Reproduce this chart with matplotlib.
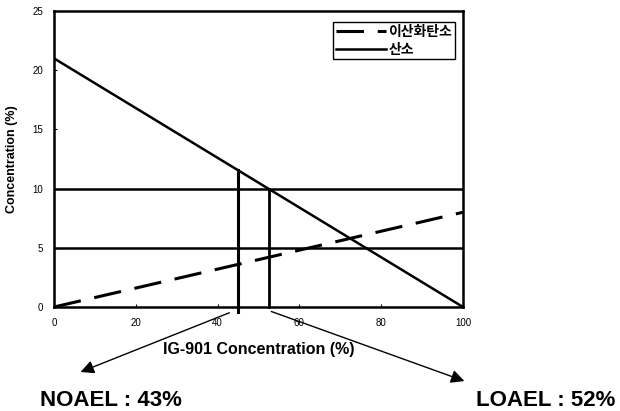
import matplotlib.pyplot as plt
import numpy as np

# data
ig901 = [0, 100]
co2 = [0, 8]          # 이산화탄소
o2 = [21, 0]          # 산소
ref_levels = [10, 5]
noael_x, loael_x = 45, 52.5
noael_label = 'NOAEL : 43%'
loael_label = 'LOAEL : 52%'

plt.rcParams['font.family'] = ['Liberation Sans', 'Noto Sans CJK KR', 'DejaVu Sans']

fig = plt.figure(figsize=(6.2, 4.11), dpi=100)
ax = fig.add_axes([54 / 620, 1 - 307 / 411, 409 / 620, 296 / 411])

ax.plot(ig901, co2, color='black', lw=2.2, ls=(0, (9, 4.5)), label='이산화탄소')
ax.plot(ig901, o2, color='black', lw=1.8, label='산소')
for lv in ref_levels:
    ax.axhline(lv, color='black', lw=1.8)

# vertical markers up to the oxygen line
o2_at = lambda x: np.interp(x, ig901, o2)
ax.plot([noael_x, noael_x], [-0.4, o2_at(noael_x)], color='black', lw=2.2, clip_on=False)
ax.plot([loael_x, loael_x], [0, o2_at(loael_x)], color='black', lw=2.0, clip_on=False)

ax.set_xlim(0, 100)
ax.set_ylim(0, 25)
ax.set_xticks(np.arange(0, 101, 20))
ax.set_yticks(np.arange(0, 26, 5))
ax.tick_params(labelsize=7, direction='in', length=2, pad=8)
for s in ax.spines.values():
    s.set_linewidth(1.8)

ax.set_xlabel('IG-901 Concentration (%)', fontsize=11.5, fontweight='bold', labelpad=10)
ax.set_ylabel('Concentration (%)', fontsize=9, fontweight='bold', labelpad=10)

leg = ax.legend(loc='upper right', fontsize=10, handlelength=3.6, handletextpad=0.2,
                borderpad=0.2, labelspacing=0.25, fancybox=False, framealpha=1,
                bbox_to_anchor=(0.997, 0.985))
leg.get_frame().set_edgecolor('black')
leg.get_frame().set_linewidth(1.0)
for t in leg.get_texts():
    t.set_fontweight('bold')

# arrows down to the annotations
ax.annotate('', xy=(78 / 620, 1 - 373 / 411), xycoords='figure fraction',
            xytext=(43.5, -0.4), textcoords='data', annotation_clip=False,
            arrowprops=dict(arrowstyle='-|>', color='black', lw=1.0, mutation_scale=20))
ax.annotate('', xy=(467 / 620, 1 - 382 / 411), xycoords='figure fraction',
            xytext=(loael_x, -0.3), textcoords='data', annotation_clip=False,
            arrowprops=dict(arrowstyle='-|>', color='black', lw=1.0, mutation_scale=20))

fig.text(40 / 620, 1 - 400 / 411, noael_label, fontsize=16, fontweight='bold', va='center')
fig.text(615 / 620, 1 - 400 / 411, loael_label, fontsize=16, fontweight='bold',
         va='center', ha='right')

fig.savefig('out.png', dpi=100)
